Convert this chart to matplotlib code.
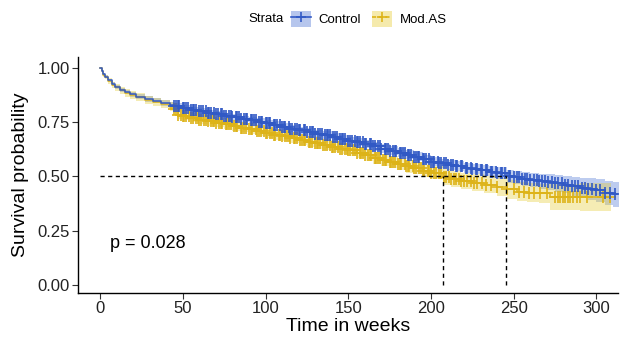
import numpy as np
import matplotlib.pyplot as plt
from matplotlib.lines import Line2D
from matplotlib.patches import Patch

plt.rcParams.update({
    "font.family": ["Liberation Sans", "DejaVu Sans"],
    "font.size": 12,
})

# --------------------------------------------------
# Data (Kaplan-Meier estimates)
# --------------------------------------------------
ctrl_t = [0, 1, 2, 3, 5, 7, 9, 12, 15, 18, 22, 27, 32, 37, 42, 45,
          50, 55, 60, 65, 70, 75, 80, 85, 90, 95, 100,
          105, 110, 115, 120, 125, 130, 135, 140, 145, 150,
          155, 160, 165, 170, 175, 180, 185, 190, 195, 200,
          205, 210, 215, 220, 225, 230, 235, 240, 246,
          250, 255, 260, 265, 270, 275, 280, 285, 290, 295, 300, 305, 310, 314]
ctrl_s = [1.000, 0.985, 0.970, 0.960, 0.942, 0.926, 0.913, 0.899, 0.889, 0.879,
          0.868, 0.857, 0.848, 0.839, 0.830, 0.824,
          0.815, 0.808, 0.800, 0.794, 0.787, 0.779, 0.772, 0.765, 0.758, 0.752, 0.745,
          0.737, 0.729, 0.720, 0.712, 0.705, 0.697, 0.690, 0.682, 0.674, 0.665,
          0.657, 0.648, 0.638, 0.628, 0.619, 0.610, 0.600, 0.590, 0.579, 0.568,
          0.560, 0.553, 0.546, 0.540, 0.534, 0.528, 0.521, 0.514, 0.500,
          0.496, 0.490, 0.484, 0.478, 0.473, 0.468, 0.462, 0.455, 0.448, 0.442,
          0.436, 0.425, 0.418, 0.410]
ctrl_ci = [0.000, 0.004, 0.006, 0.007, 0.008, 0.009, 0.010, 0.010, 0.011, 0.011,
           0.012, 0.012, 0.012, 0.013, 0.013, 0.013,
           0.013, 0.013, 0.014, 0.014, 0.014, 0.014, 0.015, 0.015, 0.015, 0.015, 0.016,
           0.016, 0.016, 0.016, 0.017, 0.017, 0.017, 0.017, 0.018, 0.018, 0.018,
           0.018, 0.019, 0.019, 0.019, 0.020, 0.020, 0.020, 0.021, 0.021, 0.021,
           0.022, 0.022, 0.023, 0.024, 0.025, 0.026, 0.027, 0.028, 0.030,
           0.031, 0.032, 0.033, 0.034, 0.036, 0.038, 0.040, 0.043, 0.046, 0.050,
           0.053, 0.056, 0.058, 0.060]

mod_t = [0, 1, 2, 3, 5, 7, 9, 12, 15, 18, 22, 27, 32, 37, 42, 45, 47,
         50, 55, 60, 65, 70, 75, 80, 85, 90, 95, 100,
         105, 110, 115, 120, 125, 130, 135, 140, 145, 150,
         155, 160, 165, 170, 175, 180, 185, 190, 195, 200,
         207, 212, 218, 225, 232, 240, 246, 252, 258, 265, 272, 280, 290, 300, 309]
mod_s = [1.000, 0.984, 0.969, 0.958, 0.940, 0.923, 0.910, 0.896, 0.885, 0.875,
         0.864, 0.852, 0.842, 0.832, 0.822, 0.812, 0.785,
         0.778, 0.770, 0.762, 0.755, 0.748, 0.740, 0.732, 0.725, 0.717, 0.708, 0.700,
         0.692, 0.684, 0.676, 0.668, 0.660, 0.652, 0.645, 0.637, 0.628, 0.620,
         0.610, 0.598, 0.585, 0.574, 0.565, 0.556, 0.547, 0.538, 0.527, 0.517,
         0.497, 0.488, 0.478, 0.470, 0.462, 0.450, 0.440, 0.430, 0.425, 0.422,
         0.405, 0.405, 0.405, 0.405, 0.405]
mod_ci = [0.000, 0.006, 0.009, 0.011, 0.013, 0.014, 0.015, 0.016, 0.017, 0.017,
          0.018, 0.018, 0.019, 0.019, 0.020, 0.020, 0.020,
          0.020, 0.020, 0.021, 0.021, 0.021, 0.022, 0.022, 0.022, 0.022, 0.023, 0.023,
          0.023, 0.023, 0.024, 0.024, 0.024, 0.025, 0.025, 0.025, 0.026, 0.026,
          0.026, 0.027, 0.027, 0.028, 0.028, 0.028, 0.029, 0.029, 0.030, 0.030,
          0.036, 0.037, 0.038, 0.039, 0.040, 0.041, 0.042, 0.043, 0.044, 0.045,
          0.060, 0.062, 0.064, 0.066, 0.068]

# censoring times (weeks)
ctrl_cens = [45, 46, 47, 48, 50, 51, 52, 53, 55, 56, 57, 58, 60, 61, 62, 64, 65,
             66, 67, 69, 70, 71, 73, 74, 75, 76, 78, 79, 80, 82, 83, 84, 85, 87,
             88, 89, 91, 92, 93, 94, 96, 97, 98, 100, 101, 102, 103, 105, 106,
             107, 109, 110, 111, 112, 114, 115, 116, 118, 119, 120, 121, 123, 124,
             125, 127, 128, 129, 130, 132, 133, 134, 136, 137, 138, 139, 141, 142,
             143, 145, 146, 147, 148, 150, 151, 152, 154, 155, 156, 157, 159, 160,
             161, 163, 164, 165, 166, 168, 169, 170, 172, 173, 174, 175, 177, 178,
             179, 181, 182, 183, 184, 186, 187, 188, 190, 191, 192, 193, 195, 196,
             197, 199, 200, 201, 202, 204, 205, 206, 208, 209, 210, 212, 213, 215,
             216, 218, 219, 221, 222, 224, 225, 227, 228, 230, 231, 233, 234, 236,
             237, 239, 240, 242, 243, 245, 247, 248, 250, 252, 253, 255, 257, 258,
             260, 262, 264, 265, 267, 269, 271, 273, 275, 277, 279, 281, 283, 285,
             287, 289, 291, 293, 295, 297, 300, 302, 305, 308, 311]
mod_cens = [45, 46, 47, 49, 50, 51, 52, 54, 55, 56, 58, 59, 60, 61, 63, 64, 65,
            67, 68, 69, 70, 72, 73, 74, 76, 77, 78, 79, 81, 82, 83, 85, 86, 87,
            88, 90, 91, 92, 94, 95, 96, 97, 99, 100, 101, 103, 104, 105, 106, 108,
            109, 110, 112, 113, 114, 115, 117, 118, 119, 121, 122, 123, 124, 126,
            127, 128, 130, 131, 132, 133, 135, 136, 137, 139, 140, 141, 142, 144,
            145, 146, 148, 149, 150, 151, 153, 154, 155, 157, 158, 159, 160, 162,
            163, 164, 166, 167, 168, 169, 171, 172, 173, 175, 176, 177, 178, 180,
            181, 182, 184, 185, 186, 187, 189, 190, 191, 193, 194, 195, 196, 198,
            199, 200, 202, 203, 205, 206, 208, 209, 211, 212, 214, 215, 217, 218,
            220, 222, 224, 226, 228, 231, 233, 236, 240, 246, 250, 253, 256, 259,
            262, 266, 270, 275, 277, 278, 280, 281, 283, 284, 286, 288, 290, 294,
            304, 308]

groups = ["Control", "Mod.AS"]
line_colors = ["#3159C5", "#DDB318"]
fill_colors = ["#4A72D4", "#E6CB30"]

median_times = [245.6, 207.0]
p_text = "p = 0.028"

# --------------------------------------------------
# Figure
# --------------------------------------------------
fig = plt.figure(figsize=(6.2, 3.41), dpi=100)
ax = fig.add_axes([78 / 620, 1 - 293 / 341, 540 / 620, 236 / 341])

series = [
    (ctrl_t, ctrl_s, ctrl_ci, ctrl_cens),
    (mod_t, mod_s, mod_ci, mod_cens),
]

# ribbons first
for (t, s, ci, _), fc in zip(series, fill_colors):
    t = np.array(t)
    s = np.array(s)
    ci = np.array(ci)
    ax.fill_between(t, s - ci, s + ci, step="post", color=fc,
                    alpha=0.36, linewidth=0, zorder=1)

# step curves + censor marks (Mod.AS below, Control on top)
for idx in [1, 0]:
    t, s, ci, cens = series[idx]
    t = np.array(t)
    s = np.array(s)
    ax.step(t, s, where="post", color=line_colors[idx], lw=1.1, zorder=3)
    pos = np.searchsorted(t, cens, side="right") - 1
    ax.plot(cens, s[pos], linestyle="none", marker="+", markersize=8.5,
            markeredgewidth=1.2, color=line_colors[idx], zorder=3)

# median survival lines
ax.plot([0, max(median_times)], [0.5, 0.5], color="black", lw=1,
        linestyle=(0, (3, 2.5)), zorder=4)
for m in median_times:
    ax.plot([m, m], [0, 0.5], color="black", lw=1,
            linestyle=(0, (3, 2.5)), zorder=4)

ax.text(6, 0.19, p_text, fontsize=13, ha="left", va="center")

# --------------------------------------------------
# Axes
# --------------------------------------------------
ax.set_xlim(-13.3, 313)
ax.set_ylim(-0.037, 1.05)
ax.set_xticks([0, 50, 100, 150, 200, 250, 300])
ax.set_yticks([0.0, 0.25, 0.5, 0.75, 1.0])
ax.set_yticklabels(["0.00", "0.25", "0.50", "0.75", "1.00"])
ax.tick_params(labelsize=12, length=4, width=0.8, color="#333333",
               labelcolor="#222222", pad=2)

ax.set_xlabel("Time in weeks", fontsize=14, labelpad=1)
ax.set_ylabel("Survival probability", fontsize=14, labelpad=6)

ax.spines["top"].set_visible(False)
ax.spines["right"].set_visible(False)
for sp in ["left", "bottom"]:
    ax.spines[sp].set_linewidth(1.0)

# --------------------------------------------------
# Legend on top
# --------------------------------------------------
fig.text(248 / 620, 1 - 19 / 341, "Strata", fontsize=9.5, ha="left", va="center")
handles = []
for i in range(2):
    ls = "-" if i == 0 else (0, (2.5, 1.5))
    handles.append((
        Patch(facecolor=fill_colors[i], alpha=0.4, edgecolor="none"),
        Line2D([], [], color=line_colors[i], lw=1.2, linestyle=ls,
               marker="+", markersize=7, markeredgewidth=1.2),
    ))
fig.legend(handles, groups, loc="center left",
           bbox_to_anchor=(291 / 620, 1 - 19 / 341), ncol=2, frameon=False,
           fontsize=9.5, handlelength=1.5, handleheight=1.5,
           handletextpad=0.6, columnspacing=0.8, borderpad=0,
           borderaxespad=0)

fig.savefig("out.png", dpi=100)
